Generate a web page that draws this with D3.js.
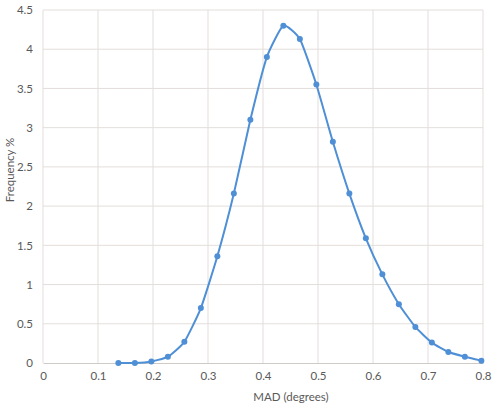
<!DOCTYPE html>
<html>
<head>
<meta charset="utf-8">
<script src="https://cdn.jsdelivr.net/npm/d3@7"></script>
<style>
  body { margin: 0; background: #fff; }
  text { font-family: Lato, "Open Sans", sans-serif; }
</style>
</head>
<body>
<svg id="chart"></svg>
<script>
const width = 499;
const height = 410;

// MAD (degrees) bins
const madValues = [0.137, 0.167, 0.197, 0.227, 0.257, 0.287, 0.317, 0.347, 0.377, 0.407, 0.437, 0.467,
    0.497, 0.527, 0.557, 0.587, 0.617, 0.647, 0.677, 0.707, 0.737, 0.767, 0.797];
// frequency %
const frequency = [0.0, 0.0, 0.02, 0.08, 0.27, 0.70, 1.36, 2.16, 3.10, 3.90, 4.30, 4.13,
    3.55, 2.82, 2.16, 1.59, 1.13, 0.75, 0.46, 0.26, 0.14, 0.08, 0.03];
const xTicks = [0, 0.1, 0.2, 0.3, 0.4, 0.5, 0.6, 0.7, 0.8];
const yTicks = [0, 0.5, 1, 1.5, 2, 2.5, 3, 3.5, 4, 4.5];

const svg = d3.select('#chart')
    .attr('width', width)
    .attr('height', height);

const plotLeft = 43, plotRight = 483, plotTop = 10, plotBottom = 363;

const x = d3.scaleLinear().domain([0, 0.8]).range([plotLeft, plotRight]);
const y = d3.scaleLinear().domain([0, 4.5]).range([plotBottom, plotTop]);

// grid
svg.append("g")
    .selectAll("line")
    .data(yTicks.slice(1))
    .enter()
    .append("line")
    .attr("x1", plotLeft).attr("x2", plotRight)
    .attr("y1", d => y(d)).attr("y2", d => y(d))
    .style("stroke", "#e3dedb")
    .style("stroke-width", 1);

svg.append("g")
    .selectAll("line")
    .data(xTicks)
    .enter()
    .append("line")
    .attr("x1", d => x(d)).attr("x2", d => x(d))
    .attr("y1", plotTop).attr("y2", plotBottom)
    .style("stroke", "#e3dedb")
    .style("stroke-width", 1);

// axes
const xAxis = svg.append("g")
    .attr("transform", `translate(0,${plotBottom})`)
    .call(d3.axisBottom(x).tickValues(xTicks).tickSize(0).tickPadding(9).tickFormat(d => d));
xAxis.select(".domain").style("stroke", "#cfcac6");

const yAxis = svg.append("g")
    .attr("transform", `translate(${plotLeft},0)`)
    .call(d3.axisLeft(y).tickValues(yTicks).tickSize(0).tickPadding(10).tickFormat(d => d));
yAxis.select(".domain").remove();

svg.selectAll(".tick text")
    .style("font-family", "Lato, 'Open Sans', sans-serif")
    .style("font-size", "11.5px")
    .style("fill", "#595959");

// titles
svg.append("text")
    .attr("x", 291)
    .attr("y", 401)
    .attr("text-anchor", "middle")
    .style("font-size", "11.5px")
    .style("fill", "#595959")
    .text("MAD (degrees)");

svg.append("text")
    .attr("transform", "translate(14,170) rotate(-90)")
    .attr("text-anchor", "middle")
    .style("font-size", "11.5px")
    .style("fill", "#595959")
    .text("Frequency %");

// series
const data = madValues.map((m, i) => ({ x: m, y: frequency[i] }));

const line = d3.line()
    .x(d => x(d.x))
    .y(d => y(d.y))
    .curve(d3.curveCardinal.tension(0.5));

svg.append("path")
    .datum(data)
    .attr("d", line)
    .style("fill", "none")
    .style("stroke", "#4f8fd6")
    .style("stroke-width", 2);

svg.append("g")
    .selectAll("circle")
    .data(data)
    .enter()
    .append("circle")
    .attr("cx", d => x(d.x))
    .attr("cy", d => y(d.y))
    .attr("r", 3)
    .style("fill", "#4f8fd6");
</script>
</body>
</html>
